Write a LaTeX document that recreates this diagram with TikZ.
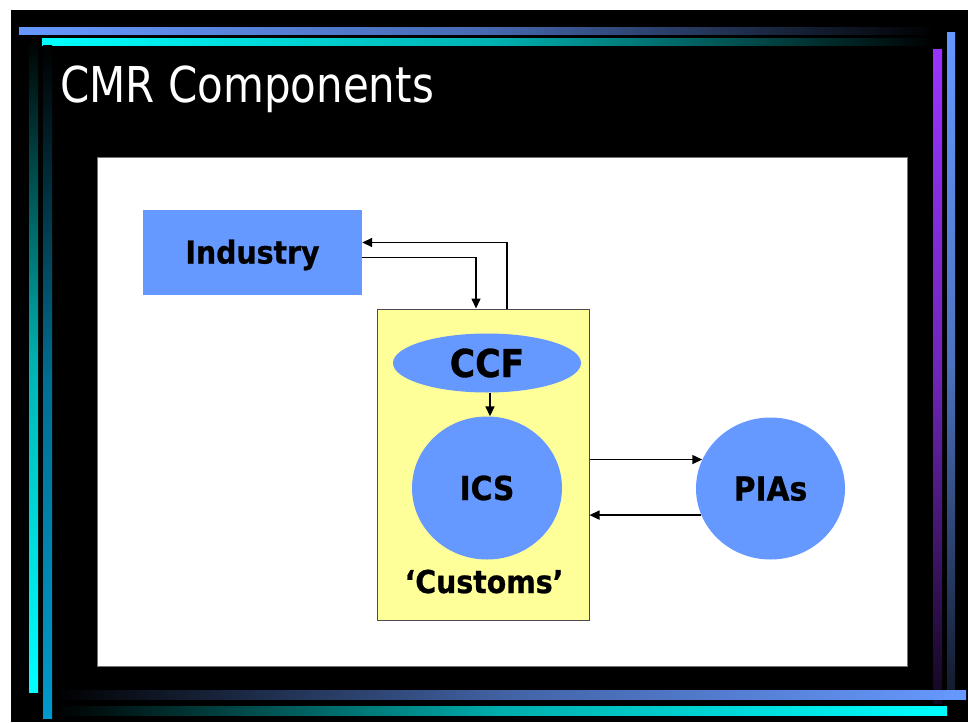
\documentclass[tikz,border=0pt]{standalone}
\usepackage{fontspec}
\usetikzlibrary{arrows.meta,shapes.geometric}
\newfontfamily\titlefont[FakeStretch=0.85]{DejaVu Sans}
\newfontfamily\lblfont[FakeStretch=0.9,FakeBold=0.8]{DejaVu Sans Bold}
\definecolor{sblue}{HTML}{6699FF}
\definecolor{scyan}{HTML}{00FFFF}
\definecolor{dcyan}{HTML}{0099CC}
\definecolor{spurple}{HTML}{9933FF}
\definecolor{syellow}{HTML}{FFFF99}
\tikzset{
  blob/.style={fill=sblue,draw=none,inner sep=0pt,text=black,text depth=0pt},
  conn/.style={draw=black,line width=1.6pt,-{Triangle[length=10pt,width=9pt]}},
  bar/.style={draw=none}
}
\begin{document}
\begin{tikzpicture}[x=1pt,y=-1pt]
\useasboundingbox (0,0) rectangle (968,722);
\fill[white] (0,0) rectangle (968,722);
\fill[black] (11,10) rectangle (968,722);
% decorative bars
\shade[bar,left color=sblue,right color=black,middle color=sblue!70!black] (19,28) rectangle (935,35);
\shade[bar,left color=scyan,right color=black,middle color=scyan!70!black] (42,39) rectangle (935,46);
\shade[bar,top color=black,bottom color=scyan,middle color=scyan!70!black] (29,37) rectangle (38,692);
\shade[bar,top color=black,bottom color=dcyan,middle color=dcyan!72!black] (43,46) rectangle (52,718);
\shade[bar,top color=spurple,bottom color=spurple!12!black,middle color=spurple!72!black] (933,50) rectangle (942,703);
\shade[bar,top color=sblue,bottom color=sblue!18!black,middle color=sblue!75!black] (947,33) rectangle (955,690);
\shade[bar,left color=black,right color=sblue,middle color=sblue!65!black] (55,690) rectangle (966,699);
\shade[bar,left color=black,right color=scyan,middle color=scyan!68!black] (55,706) rectangle (947,715);
% title
\node[anchor=base west,inner sep=0pt,text=white,font=\titlefont\fontsize{49.4}{50}\selectfont] (title) at (60,103) {CMR Components};
% panel
\fill[white,draw=black!55,line width=1pt] (97,158) rectangle (907,666);
% diagram
\node[blob,rectangle,minimum width=219pt,minimum height=85pt,text height=23pt,
      font=\lblfont\fontsize{31.5}{32}\selectfont] (ind) at (252.5,252) {Industry};
\node[rectangle,fill=syellow,draw=black!70,line width=1pt,minimum width=212pt,minimum height=311pt,inner sep=0pt] (ybox) at (483,464.5) {};
\node[blob,ellipse,minimum width=188pt,minimum height=59pt,text height=28pt,
      font=\lblfont\fontsize{38.4}{39}\selectfont] (ccf) at (487,363) {CCF};
\node[blob,ellipse,minimum width=150pt,minimum height=143pt,text height=24pt,
      font=\lblfont\fontsize{33}{34}\selectfont] (ics) at (487,488) {ICS};
\node[blob,ellipse,minimum width=149pt,minimum height=142pt,text height=24pt,
      font=\lblfont\fontsize{33}{34}\selectfont] (pias) at (770.5,488.5) {PIAs};
\node[anchor=base,inner sep=0pt,text=black,font=\lblfont\fontsize{31.5}{32}\selectfont] (cust) at (484,593) {‘Customs’};
% connectors
\draw[conn] ([yshift=-5.5pt]ind.east) -| ([xshift=-7pt]ybox.north);
\draw[conn] ([xshift=24pt]ybox.north) |- ([yshift=9.5pt]ind.east);
\draw[conn] ([xshift=3pt]ccf.south) -- ([xshift=3pt]ccf.south |- ics.north);
\draw[conn] (ybox.east |- pias.157.6) -- (pias.157.6);
\draw[conn] (pias.201.5) -- (ybox.east |- pias.201.5);
\end{tikzpicture}
\end{document}
